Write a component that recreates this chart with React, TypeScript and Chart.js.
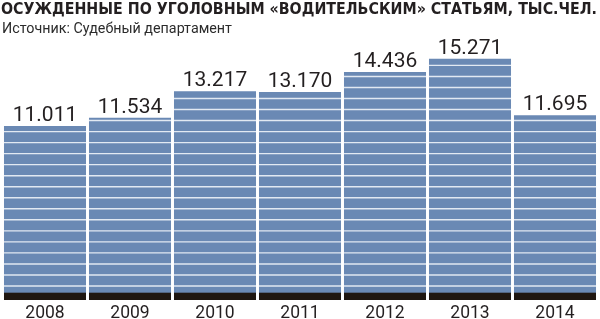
import React, { useEffect, useRef } from "react";
import { Chart, registerables } from "chart.js";

Chart.register(...registerables);

const TITLE = "ОСУЖДЕННЫЕ ПО УГОЛОВНЫМ «ВОДИТЕЛЬСКИМ» СТАТЬЯМ, ТЫС.ЧЕЛ.";
const SOURCE = "Источник: Судебный департамент";
const years = ["2008", "2009", "2010", "2011", "2012", "2013", "2014"];
const convicted = [11.011, 11.534, 13.217, 13.17, 14.436, 15.271, 11.695];
const valueLabels = ["11.011", "11.534", "13.217", "13.170", "14.436", "15.271", "11.695"];

const BAR_COLOR = "#6a89b4";
const BAND_COLOR = "#1f1610";
const TEXT_COLOR = "#231f20";

const decorPlugin = {
  id: "decor",
  afterDatasetsDraw(chart: any) {
    const ctx = chart.ctx;
    const meta = chart.getDatasetMeta(0);
    const area = chart.chartArea;
    const base = area.bottom;
    meta.data.forEach((bar: any, i: number) => {
      const w = bar.width;
      const x0 = bar.x - w / 2;
      const top = bar.y;
      ctx.save();
      ctx.beginPath();
      ctx.rect(x0, top, w, base - top);
      ctx.clip();
      // stripes
      ctx.strokeStyle = "#e2e9f2";
      ctx.lineWidth = 1.4;
      for (let y = base - 14; y > top + 1; y -= 11.03) {
        ctx.beginPath();
        ctx.moveTo(x0, y);
        ctx.lineTo(x0 + w, y);
        ctx.stroke();
      }
      // bottom band
      ctx.fillStyle = BAND_COLOR;
      ctx.fillRect(x0, base - 7.3, w, 7.3);
      ctx.restore();

      // value labels
      ctx.save();
      ctx.fillStyle = TEXT_COLOR;
      ctx.font = "400 21px Roboto";
      ctx.textAlign = "center";
      ctx.textBaseline = "alphabetic";
      ctx.fillText(valueLabels[i], bar.x, top - 5);
      // year labels
      ctx.font = "400 17.5px Roboto";
      ctx.fillText(years[i], bar.x, 318);
      ctx.restore();
    });

    // title & source
    ctx.save();
    ctx.fillStyle = TEXT_COLOR;
    ctx.textAlign = "left";
    ctx.textBaseline = "alphabetic";
    ctx.font = "bold 15.5px 'DejaVu Sans Condensed'";
    let m = ctx.measureText(TITLE).width;
    ctx.save();
    ctx.translate(1, 14);
    ctx.scale(596 / m, 1);
    ctx.fillText(TITLE, 0, 0);
    ctx.restore();
    ctx.fillStyle = "#2b2b2b";
    ctx.font = "400 15px Roboto";
    m = ctx.measureText(SOURCE).width;
    ctx.save();
    ctx.translate(2, 33);
    ctx.scale(230 / m, 1);
    ctx.fillText(SOURCE, 0, 0);
    ctx.restore();
    ctx.restore();
  },
};

export default function App() {
  const ref = useRef<HTMLCanvasElement | null>(null);
  useEffect(() => {
    if (!ref.current) return;
    const chart = new Chart(ref.current, {
      type: "bar",
      data: {
        labels: years,
        datasets: [
          {
            data: convicted,
            backgroundColor: BAR_COLOR,
            borderWidth: 0,
            barPercentage: 0.965,
            categoryPercentage: 1,
          },
        ],
      },
      options: {
        animation: false,
        responsive: true,
        maintainAspectRatio: false,
        layout: { padding: { top: 40, bottom: 19, left: 2.5, right: 2.5 } },
        plugins: { legend: { display: false }, tooltip: { enabled: false }, title: { display: false } },
        scales: {
          x: { display: false },
          y: { display: false, min: 0, max: 16.456 },
        },
      },
      plugins: [decorPlugin],
    });
    return () => chart.destroy();
  }, []);
  return (
    <div style={{ position: "absolute", left: 0, top: 0, width: 600, height: 319, background: "#fff" }}>
      <canvas ref={ref} />
    </div>
  );
}
